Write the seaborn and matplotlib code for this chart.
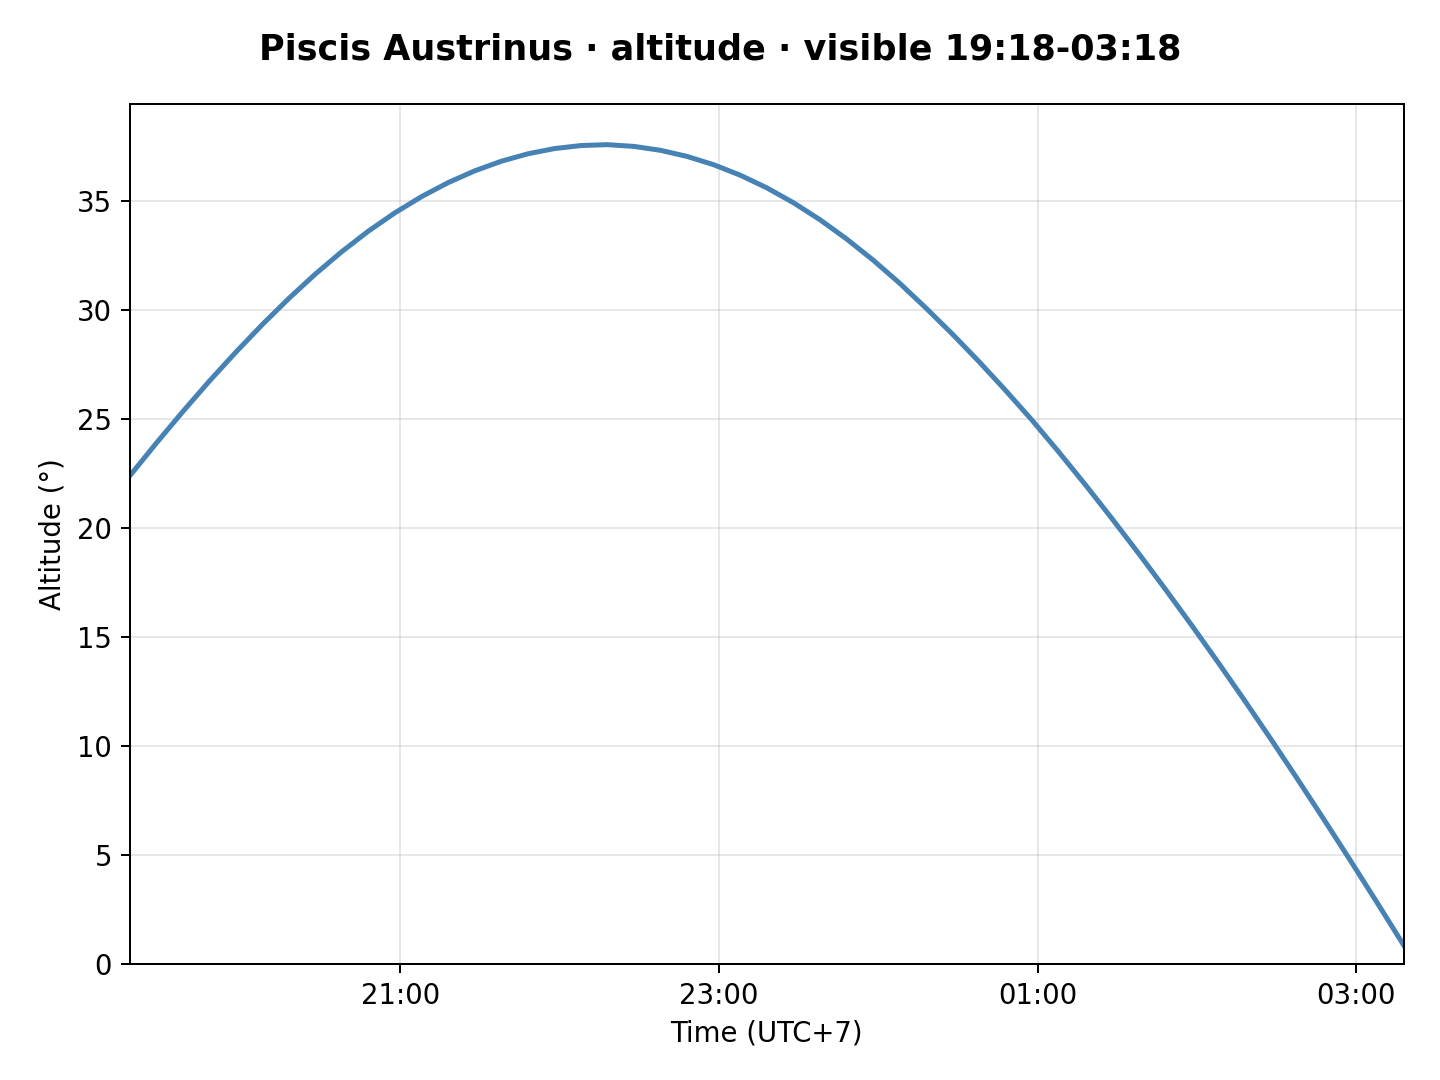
import pandas as pd
import matplotlib
matplotlib.use("Agg")
import matplotlib.pyplot as plt
import matplotlib.dates as mdates
import seaborn as sns

start_time = "2024-09-01 19:18"
step_minutes = 10
altitude_deg = [
    22.4, 23.9, 25.35, 26.75, 28.08, 29.35, 30.55, 31.67, 32.7, 33.64,
    34.48, 35.22, 35.86, 36.4, 36.84, 37.18, 37.42, 37.56, 37.6, 37.52,
    37.34, 37.06, 36.68, 36.2, 35.62, 34.94, 34.16, 33.28, 32.31, 31.25,
    30.1, 28.9, 27.64, 26.32, 24.95, 23.5, 22.0, 20.45, 18.86, 17.23,
    15.56, 13.85, 12.1, 10.31, 8.48, 6.62, 4.73, 2.81, 0.86,
]
tick_hours = [21, 23, 1, 3]

title = "Piscis Austrinus · altitude · visible 19:18-03:18"

times = pd.date_range(start_time, periods=len(altitude_deg), freq=f"{step_minutes}min")
df = pd.DataFrame({"time": times, "alt": altitude_deg})

fig, ax = plt.subplots(figsize=(8, 6), dpi=180)
sns.lineplot(data=df, x="time", y="alt", ax=ax, color="#4682B4", linewidth=2)

ax.set_xlim(df["time"].iloc[0], df["time"].iloc[-1])
ax.set_ylim(0, max(altitude_deg) * 1.05)
ax.xaxis.set_major_locator(mdates.HourLocator(byhour=tick_hours))
ax.xaxis.set_major_formatter(mdates.DateFormatter("%H:%M"))
ax.grid(True, alpha=0.3)

ax.set_xlabel("Time (UTC+7)", fontsize=11)
ax.set_ylabel("Altitude (°)", fontsize=11)
ax.tick_params(labelsize=11)
fig.suptitle(title, fontsize=14, fontweight="bold", y=0.97)

fig.subplots_adjust(left=0.09, right=0.975, top=0.904, bottom=0.107)
fig.savefig("out.png", dpi=180)
